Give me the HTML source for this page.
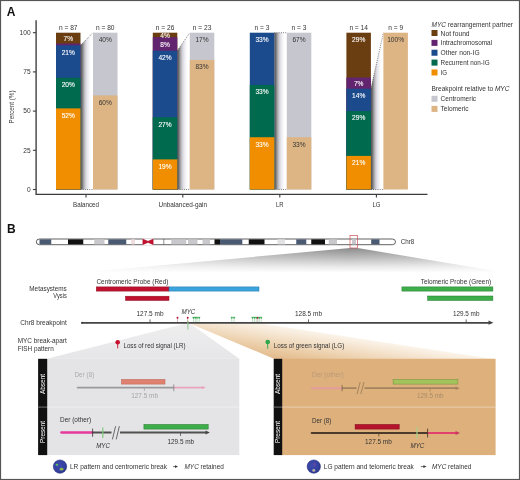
<!DOCTYPE html>
<html lang="en"><head><meta charset="utf-8"><title>MYC rearrangement figure</title>
<style>
html,body{margin:0;padding:0;background:#fff;}
body{width:520px;height:480px;overflow:hidden;}
svg{display:block;font-family:"Liberation Sans",sans-serif;}
</style></head><body>
<svg width="520" height="480" viewBox="0 0 520 480">
<defs>
<linearGradient id="shade" x1="0" y1="0" x2="1" y2="0">
<stop offset="0" stop-color="#4d4d4d"/><stop offset="0.12" stop-color="#707070"/><stop offset="0.26" stop-color="#a8a8ac"/><stop offset="0.4" stop-color="#d0d0d6"/><stop offset="0.55" stop-color="#e8e8ee"/><stop offset="0.74" stop-color="#fafafc"/><stop offset="0.85" stop-color="#ffffff"/>
</linearGradient>
<linearGradient id="wedge" x1="0" y1="0" x2="0" y2="1">
<stop offset="0" stop-color="#8c8c8c"/><stop offset="0.35" stop-color="#b9b9b9"/><stop offset="0.7" stop-color="#e8e8e8"/><stop offset="0.93" stop-color="#ffffff"/>
</linearGradient>
<linearGradient id="wedgefade" gradientUnits="userSpaceOnUse" x1="62" y1="0" x2="510" y2="0">
<stop offset="0" stop-color="#fff" stop-opacity="0.75"/><stop offset="0.42" stop-color="#fff" stop-opacity="0.18"/><stop offset="0.64" stop-color="#fff" stop-opacity="0"/><stop offset="0.8" stop-color="#fff" stop-opacity="0.1"/><stop offset="1" stop-color="#fff" stop-opacity="0.5"/>
</linearGradient>
<linearGradient id="gwedge" x1="0" y1="0" x2="0" y2="1">
<stop offset="0" stop-color="#eeeeef"/><stop offset="1" stop-color="#e6e6e8"/>
</linearGradient>
<linearGradient id="owedge" gradientUnits="userSpaceOnUse" x1="261" y1="323.4" x2="256" y2="356">
<stop offset="0" stop-color="#fbf4ea"/><stop offset="0.35" stop-color="#f3e0c8"/><stop offset="0.7" stop-color="#eacba4"/><stop offset="1" stop-color="#e2ba8b"/>
</linearGradient>
<radialGradient id="cell" cx="0.4" cy="0.4" r="0.7">
<stop offset="0" stop-color="#3e4cae"/><stop offset="0.7" stop-color="#3440a0"/><stop offset="1" stop-color="#252e80"/>
</radialGradient>
</defs>
<rect x="0" y="0" width="520" height="480" fill="#fff"/>

<text x="6.80" y="16.32" font-size="12" fill="#111" font-weight="bold">A</text>
<path d="M36.1 20.3 V194.3 H427.5" fill="none" stroke="#3c3c3c" stroke-width="1.35"/>
<path d="M32.9 189.50 H36.1" stroke="#3c3c3c" stroke-width="1.1"/>
<text x="30.60" y="191.88" font-size="6.6" fill="#333" text-anchor="end">0</text>
<path d="M32.9 150.30 H36.1" stroke="#3c3c3c" stroke-width="1.1"/>
<text x="30.60" y="152.68" font-size="6.6" fill="#333" text-anchor="end">25</text>
<path d="M32.9 111.10 H36.1" stroke="#3c3c3c" stroke-width="1.1"/>
<text x="30.60" y="113.48" font-size="6.6" fill="#333" text-anchor="end">50</text>
<path d="M32.9 71.90 H36.1" stroke="#3c3c3c" stroke-width="1.1"/>
<text x="30.60" y="74.28" font-size="6.6" fill="#333" text-anchor="end">75</text>
<path d="M32.9 32.70 H36.1" stroke="#3c3c3c" stroke-width="1.1"/>
<text x="30.60" y="35.08" font-size="6.6" fill="#333" text-anchor="end">100</text>
<text x="11.50" y="109.66" font-size="7.4" fill="#333" text-anchor="middle" textLength="33.00" lengthAdjust="spacingAndGlyphs" transform="rotate(-90 11.50 107.00)">Percent (%)</text>
<polygon points="80.5,45.32 93.0,32.70 93.0,189.50 80.5,189.50" fill="url(#shade)"/>
<path d="M80.5 45.32 L93.0 32.70" stroke="#444" stroke-width="0.75" stroke-dasharray="0.9 1.3" fill="none"/>
<path d="M80.5 189.50 L93.0 189.50" stroke="#444" stroke-width="0.75" stroke-dasharray="0.9 1.3" fill="none"/>
<rect x="56.0" y="32.70" width="24.5" height="156.80" fill="#6B3E12"/>
<rect x="56.0" y="43.51" width="24.5" height="145.99" fill="#62246F"/>
<rect x="56.0" y="45.32" width="24.5" height="144.18" fill="#1B4A8D"/>
<rect x="56.0" y="77.76" width="24.5" height="111.74" fill="#006A4E"/>
<rect x="56.0" y="108.40" width="24.5" height="81.10" fill="#F18E00"/>
<text x="68.25" y="117.77" font-size="6.6" fill="#fff" text-anchor="middle" stroke="#fff" stroke-width="0.1">52%</text>
<text x="68.25" y="87.13" font-size="6.6" fill="#fff" text-anchor="middle" stroke="#fff" stroke-width="0.1">20%</text>
<text x="68.25" y="54.69" font-size="6.6" fill="#fff" text-anchor="middle" stroke="#fff" stroke-width="0.1">21%</text>
<text x="68.25" y="40.78" font-size="6.6" fill="#fff" text-anchor="middle" stroke="#fff" stroke-width="0.1">7%</text>
<rect x="93.0" y="32.70" width="24.5" height="156.80" fill="#C6C6CE"/>
<rect x="93.0" y="95.42" width="24.5" height="94.08" fill="#DDB483"/>
<text x="105.25" y="104.70" font-size="6.6" fill="#333" text-anchor="middle">60%</text>
<text x="105.25" y="41.98" font-size="6.6" fill="#333" text-anchor="middle">40%</text>
<text x="68.25" y="29.98" font-size="6.6" fill="#333" text-anchor="middle">n = 87</text>
<text x="105.25" y="29.98" font-size="6.6" fill="#333" text-anchor="middle">n = 80</text>
<path d="M86.0 194.3 V197.4" stroke="#3c3c3c" stroke-width="1.1"/>
<text x="86.00" y="206.78" font-size="6.6" fill="#333" text-anchor="middle" textLength="26.00" lengthAdjust="spacingAndGlyphs">Balanced</text>
<polygon points="177.3,50.73 189.8,32.70 189.8,189.50 177.3,189.50" fill="url(#shade)"/>
<path d="M177.3 50.73 L189.8 32.70" stroke="#444" stroke-width="0.75" stroke-dasharray="0.9 1.3" fill="none"/>
<path d="M177.3 189.50 L189.8 189.50" stroke="#444" stroke-width="0.75" stroke-dasharray="0.9 1.3" fill="none"/>
<rect x="152.8" y="32.70" width="24.5" height="156.80" fill="#6B3E12"/>
<rect x="152.8" y="37.17" width="24.5" height="152.33" fill="#62246F"/>
<rect x="152.8" y="50.73" width="24.5" height="138.77" fill="#1B4A8D"/>
<rect x="152.8" y="117.22" width="24.5" height="72.28" fill="#006A4E"/>
<rect x="152.8" y="159.39" width="24.5" height="30.11" fill="#F18E00"/>
<text x="165.05" y="168.77" font-size="6.6" fill="#fff" text-anchor="middle" stroke="#fff" stroke-width="0.1">19%</text>
<text x="165.05" y="126.59" font-size="6.6" fill="#fff" text-anchor="middle" stroke="#fff" stroke-width="0.1">27%</text>
<text x="165.05" y="60.11" font-size="6.6" fill="#fff" text-anchor="middle" stroke="#fff" stroke-width="0.1">42%</text>
<text x="165.05" y="46.54" font-size="6.6" fill="#fff" text-anchor="middle" stroke="#fff" stroke-width="0.1">8%</text>
<text x="165.05" y="37.61" font-size="6.6" fill="#fff" text-anchor="middle" stroke="#fff" stroke-width="0.1">4%</text>
<rect x="189.8" y="32.70" width="24.5" height="156.80" fill="#C6C6CE"/>
<rect x="189.8" y="59.97" width="24.5" height="129.53" fill="#DDB483"/>
<text x="202.05" y="69.25" font-size="6.6" fill="#333" text-anchor="middle">83%</text>
<text x="202.05" y="41.98" font-size="6.6" fill="#333" text-anchor="middle">17%</text>
<text x="165.05" y="29.98" font-size="6.6" fill="#333" text-anchor="middle">n = 26</text>
<text x="202.05" y="29.98" font-size="6.6" fill="#333" text-anchor="middle">n = 23</text>
<path d="M182.8 194.3 V197.4" stroke="#3c3c3c" stroke-width="1.1"/>
<text x="182.80" y="206.78" font-size="6.6" fill="#333" text-anchor="middle" textLength="48.50" lengthAdjust="spacingAndGlyphs">Unbalanced-gain</text>
<polygon points="274.3,32.70 286.8,32.70 286.8,189.50 274.3,189.50" fill="url(#shade)"/>
<path d="M274.3 32.70 L286.8 32.70" stroke="#444" stroke-width="0.75" stroke-dasharray="0.9 1.3" fill="none"/>
<path d="M274.3 189.50 L286.8 189.50" stroke="#444" stroke-width="0.75" stroke-dasharray="0.9 1.3" fill="none"/>
<rect x="249.8" y="32.70" width="24.5" height="156.80" fill="#1B4A8D"/>
<rect x="249.8" y="84.97" width="24.5" height="104.53" fill="#006A4E"/>
<rect x="249.8" y="137.23" width="24.5" height="52.27" fill="#F18E00"/>
<text x="262.05" y="146.61" font-size="6.6" fill="#fff" text-anchor="middle" stroke="#fff" stroke-width="0.1">33%</text>
<text x="262.05" y="94.34" font-size="6.6" fill="#fff" text-anchor="middle" stroke="#fff" stroke-width="0.1">33%</text>
<text x="262.05" y="42.08" font-size="6.6" fill="#fff" text-anchor="middle" stroke="#fff" stroke-width="0.1">33%</text>
<rect x="286.8" y="32.70" width="24.5" height="156.80" fill="#C6C6CE"/>
<rect x="286.8" y="137.23" width="24.5" height="52.27" fill="#DDB483"/>
<text x="299.05" y="146.51" font-size="6.6" fill="#333" text-anchor="middle">33%</text>
<text x="299.05" y="41.98" font-size="6.6" fill="#333" text-anchor="middle">67%</text>
<text x="262.05" y="29.98" font-size="6.6" fill="#333" text-anchor="middle">n = 3</text>
<text x="299.05" y="29.98" font-size="6.6" fill="#333" text-anchor="middle">n = 3</text>
<path d="M279.8 194.3 V197.4" stroke="#3c3c3c" stroke-width="1.1"/>
<text x="279.80" y="206.78" font-size="6.6" fill="#333" text-anchor="middle" textLength="7.50" lengthAdjust="spacingAndGlyphs">LR</text>
<polygon points="370.9,88.70 383.4,32.70 383.4,189.50 370.9,189.50" fill="url(#shade)"/>
<path d="M370.9 88.70 L383.4 32.70" stroke="#444" stroke-width="0.75" stroke-dasharray="0.9 1.3" fill="none"/>
<path d="M370.9 189.50 L383.4 189.50" stroke="#444" stroke-width="0.75" stroke-dasharray="0.9 1.3" fill="none"/>
<rect x="346.4" y="32.70" width="24.5" height="156.80" fill="#6B3E12"/>
<rect x="346.4" y="77.50" width="24.5" height="112.00" fill="#62246F"/>
<rect x="346.4" y="88.70" width="24.5" height="100.80" fill="#1B4A8D"/>
<rect x="346.4" y="111.10" width="24.5" height="78.40" fill="#006A4E"/>
<rect x="346.4" y="155.90" width="24.5" height="33.60" fill="#F18E00"/>
<text x="358.65" y="165.28" font-size="6.6" fill="#fff" text-anchor="middle" stroke="#fff" stroke-width="0.1">21%</text>
<text x="358.65" y="120.48" font-size="6.6" fill="#fff" text-anchor="middle" stroke="#fff" stroke-width="0.1">29%</text>
<text x="358.65" y="98.08" font-size="6.6" fill="#fff" text-anchor="middle" stroke="#fff" stroke-width="0.1">14%</text>
<text x="358.65" y="85.78" font-size="6.6" fill="#fff" text-anchor="middle" stroke="#fff" stroke-width="0.1">7%</text>
<text x="358.65" y="42.08" font-size="6.6" fill="#fff" text-anchor="middle" stroke="#fff" stroke-width="0.1">29%</text>
<rect x="383.4" y="32.70" width="24.5" height="156.80" fill="#DDB483"/>
<text x="395.65" y="41.98" font-size="6.6" fill="#333" text-anchor="middle">100%</text>
<text x="358.65" y="29.98" font-size="6.6" fill="#333" text-anchor="middle">n = 14</text>
<text x="395.65" y="29.98" font-size="6.6" fill="#333" text-anchor="middle">n = 9</text>
<path d="M376.4 194.3 V197.4" stroke="#3c3c3c" stroke-width="1.1"/>
<text x="376.40" y="206.78" font-size="6.6" fill="#333" text-anchor="middle" textLength="8.00" lengthAdjust="spacingAndGlyphs">LG</text>
<text x="431.5" y="26.6" font-size="7" fill="#333" textLength="81.5" lengthAdjust="spacingAndGlyphs"><tspan font-style="italic">MYC</tspan> rearrangement partner</text>
<rect x="431.5" y="30.00" width="6" height="6" fill="#6B3E12"/>
<text x="440.60" y="35.52" font-size="7" fill="#333" textLength="29.00" lengthAdjust="spacingAndGlyphs">Not found</text>
<rect x="431.5" y="39.87" width="6" height="6" fill="#62246F"/>
<text x="440.60" y="45.39" font-size="7" fill="#333" textLength="51.50" lengthAdjust="spacingAndGlyphs">Intrachromosomal</text>
<rect x="431.5" y="49.74" width="6" height="6" fill="#1B4A8D"/>
<text x="440.60" y="55.26" font-size="7" fill="#333" textLength="39.00" lengthAdjust="spacingAndGlyphs">Other non-IG</text>
<rect x="431.5" y="59.61" width="6" height="6" fill="#006A4E"/>
<text x="440.60" y="65.13" font-size="7" fill="#333" textLength="49.00" lengthAdjust="spacingAndGlyphs">Recurrent non-IG</text>
<rect x="431.5" y="69.48" width="6" height="6" fill="#F18E00"/>
<text x="440.60" y="75.00" font-size="7" fill="#333" textLength="6.50" lengthAdjust="spacingAndGlyphs">IG</text>
<text x="431.5" y="90.9" font-size="7" fill="#333" textLength="78" lengthAdjust="spacingAndGlyphs">Breakpoint relative to <tspan font-style="italic">MYC</tspan></text>
<rect x="431.5" y="95.80" width="6" height="6" fill="#C6C6CE"/>
<text x="440.60" y="101.32" font-size="7" fill="#333" textLength="35.50" lengthAdjust="spacingAndGlyphs">Centromeric</text>
<rect x="431.5" y="105.90" width="6" height="6" fill="#DDB483"/>
<text x="440.60" y="111.42" font-size="7" fill="#333" textLength="28.00" lengthAdjust="spacingAndGlyphs">Telomeric</text>
<text x="7.00" y="232.92" font-size="12" fill="#111" font-weight="bold">B</text>
<polygon points="350,248 357.6,248 510,273.5 62,274.5" fill="url(#wedge)"/>
<polygon points="350,247.5 357.6,247.5 511,274 61,275" fill="url(#wedgefade)"/>
<rect x="36.3" y="239" width="359.2" height="5.699999999999989" rx="3.2" ry="3.2" fill="#fff" stroke="#3a3a3a" stroke-width="0.8"/>
<rect x="39.5" y="239.35" width="11.75" height="5.00" fill="#4A5A73"/>
<rect x="68" y="239.35" width="15.25" height="5.00" fill="#111"/>
<rect x="94.25" y="239.35" width="10.25" height="5.00" fill="#C9C9CD"/>
<rect x="108.25" y="239.35" width="18.00" height="5.00" fill="#4A5A73"/>
<rect x="131.25" y="239.35" width="3.75" height="5.00" fill="#EFDCDC"/>
<rect x="171.25" y="239.35" width="15.00" height="5.00" fill="#C9C9CD"/>
<rect x="188" y="239.35" width="9.50" height="5.00" fill="#C9C9CD"/>
<rect x="202.5" y="239.35" width="7.50" height="5.00" fill="#C9C9CD"/>
<rect x="214.5" y="239.35" width="5.50" height="5.00" fill="#111"/>
<rect x="220" y="239.35" width="22.30" height="5.00" fill="#4A5A73"/>
<rect x="248.75" y="239.35" width="15.75" height="5.00" fill="#111"/>
<rect x="277.5" y="239.35" width="7.50" height="5.00" fill="#E3E3E6"/>
<rect x="296.25" y="239.35" width="10.00" height="5.00" fill="#4A5A73"/>
<rect x="311.25" y="239.35" width="13.75" height="5.00" fill="#111"/>
<rect x="328.75" y="239.35" width="8.25" height="5.00" fill="#C9C9CD"/>
<rect x="352" y="239.35" width="4.00" height="5.00" fill="#C9C9CD"/>
<rect x="371.2" y="239.35" width="8.30" height="5.00" fill="#4A5A73"/>
<path d="M163.8 239 V244.7" stroke="#444" stroke-width="0.6"/>
<rect x="142.6" y="238.4" width="10.8" height="6.899999999999989" fill="#fff"/>
<path d="M142.8 239 L148 241.25 L153.2 239 V244.7 L148 242.45 L142.8 244.7 Z" fill="#C8102E" stroke="#8E0B20" stroke-width="0.4"/>
<rect x="350" y="235.4" width="7.6" height="12.6" fill="none" stroke="#CF4F5A" stroke-width="0.7"/>
<text x="400.80" y="244.05" font-size="6.8" fill="#333" textLength="13.50" lengthAdjust="spacingAndGlyphs">Chr8</text>
<text x="66.80" y="290.95" font-size="6.8" fill="#333" text-anchor="end" textLength="37.50" lengthAdjust="spacingAndGlyphs">Metasystems</text>
<text x="66.80" y="298.25" font-size="6.8" fill="#333" text-anchor="end" textLength="13.50" lengthAdjust="spacingAndGlyphs">Vysis</text>
<text x="96.40" y="284.05" font-size="6.8" fill="#333" textLength="72.00" lengthAdjust="spacingAndGlyphs">Centromeric Probe (Red)</text>
<rect x="96.3" y="286.9" width="72.7" height="4.2" fill="#C0122F" stroke="#8F0D22" stroke-width="0.5"/>
<rect x="169" y="286.9" width="90" height="4.2" fill="#3BA3DB" stroke="#2679A8" stroke-width="0.5"/>
<rect x="125.5" y="296.2" width="43.5" height="4.3" fill="#C0122F" stroke="#8F0D22" stroke-width="0.5"/>
<text x="420.70" y="283.75" font-size="6.8" fill="#333" textLength="70.50" lengthAdjust="spacingAndGlyphs">Telomeric Probe (Green)</text>
<rect x="401.9" y="286.9" width="91" height="4.2" fill="#3DAE49" stroke="#2A7A33" stroke-width="0.5"/>
<rect x="427.6" y="296" width="65.3" height="4.5" fill="#3DAE49" stroke="#2A7A33" stroke-width="0.5"/>
<polygon points="185.5,323.4 190,323.4 239.3,358.8 47,358.8" fill="url(#gwedge)"/>
<polygon points="190,323.4 261,323.4 495.6,359.2 275,359.2" fill="url(#owedge)"/>
<text x="66.80" y="324.75" font-size="6.8" fill="#333" text-anchor="end" textLength="46.50" lengthAdjust="spacingAndGlyphs">Chr8 breakpoint</text>
<path d="M82 322.8 H490" stroke="#444" stroke-width="1.8" stroke-linecap="round"/>
<circle cx="82.2" cy="322.8" r="1.1" fill="#444"/>
<polygon points="493.5,322.7 488.5,320.6 488.5,324.8" fill="#444"/>
<path d="M150 319.4 V322.7" stroke="#444" stroke-width="0.8"/>
<text x="150.00" y="316.35" font-size="6.8" fill="#333" text-anchor="middle" textLength="27.00" lengthAdjust="spacingAndGlyphs">127.5 mb</text>
<path d="M308.5 319.4 V322.7" stroke="#444" stroke-width="0.8"/>
<text x="308.50" y="316.35" font-size="6.8" fill="#333" text-anchor="middle" textLength="27.00" lengthAdjust="spacingAndGlyphs">128.5 mb</text>
<path d="M466.2 319.4 V322.7" stroke="#444" stroke-width="0.8"/>
<text x="466.20" y="316.35" font-size="6.8" fill="#333" text-anchor="middle" textLength="26.50" lengthAdjust="spacingAndGlyphs">129.5 mb</text>
<text x="188.40" y="313.75" font-size="6.8" fill="#333" text-anchor="middle" textLength="14.00" lengthAdjust="spacingAndGlyphs" font-style="italic">MYC</text>
<path d="M187.9 320.8 V329.6" stroke="#8CC68C" stroke-width="1"/>
<path d="M177.5 318.2 V322.2" stroke="#9a5560" stroke-width="0.4"/>
<circle cx="177.5" cy="317.7" r="0.95" fill="#B30F2A"/>
<path d="M187.7 318.2 V322.2" stroke="#9a5560" stroke-width="0.4"/>
<circle cx="187.7" cy="317.7" r="0.95" fill="#B30F2A"/>
<path d="M257.7 318.2 V322.2" stroke="#9a5560" stroke-width="0.4"/>
<circle cx="257.7" cy="317.7" r="0.95" fill="#B30F2A"/>
<path d="M193.5 318.6 V322.2" stroke="#5fae6c" stroke-width="0.4"/>
<path d="M192.55 317 H194.45 L193.5 319 Z" fill="#3FB257" stroke="#239A3E" stroke-width="0.3"/>
<path d="M195.3 318.6 V322.2" stroke="#5fae6c" stroke-width="0.4"/>
<path d="M194.35000000000002 317 H196.25 L195.3 319 Z" fill="#3FB257" stroke="#239A3E" stroke-width="0.3"/>
<path d="M197 318.6 V322.2" stroke="#5fae6c" stroke-width="0.4"/>
<path d="M196.05 317 H197.95 L197 319 Z" fill="#3FB257" stroke="#239A3E" stroke-width="0.3"/>
<path d="M199.2 318.6 V322.2" stroke="#5fae6c" stroke-width="0.4"/>
<path d="M198.25 317 H200.14999999999998 L199.2 319 Z" fill="#3FB257" stroke="#239A3E" stroke-width="0.3"/>
<path d="M231.8 318.6 V322.2" stroke="#5fae6c" stroke-width="0.4"/>
<path d="M230.85000000000002 317 H232.75 L231.8 319 Z" fill="#3FB257" stroke="#239A3E" stroke-width="0.3"/>
<path d="M234.1 318.6 V322.2" stroke="#5fae6c" stroke-width="0.4"/>
<path d="M233.15 317 H235.04999999999998 L234.1 319 Z" fill="#3FB257" stroke="#239A3E" stroke-width="0.3"/>
<path d="M252.5 318.6 V322.2" stroke="#5fae6c" stroke-width="0.4"/>
<path d="M251.55 317 H253.45 L252.5 319 Z" fill="#3FB257" stroke="#239A3E" stroke-width="0.3"/>
<path d="M254.4 318.6 V322.2" stroke="#5fae6c" stroke-width="0.4"/>
<path d="M253.45000000000002 317 H255.35 L254.4 319 Z" fill="#3FB257" stroke="#239A3E" stroke-width="0.3"/>
<path d="M256.2 318.6 V322.2" stroke="#5fae6c" stroke-width="0.4"/>
<path d="M255.25 317 H257.15 L256.2 319 Z" fill="#3FB257" stroke="#239A3E" stroke-width="0.3"/>
<path d="M259.3 318.6 V322.2" stroke="#5fae6c" stroke-width="0.4"/>
<path d="M258.35 317 H260.25 L259.3 319 Z" fill="#3FB257" stroke="#239A3E" stroke-width="0.3"/>
<path d="M261.2 318.6 V322.2" stroke="#5fae6c" stroke-width="0.4"/>
<path d="M260.25 317 H262.15 L261.2 319 Z" fill="#3FB257" stroke="#239A3E" stroke-width="0.3"/>
<text x="17.70" y="342.65" font-size="6.8" fill="#333" textLength="49.00" lengthAdjust="spacingAndGlyphs">MYC break-apart</text>
<text x="17.70" y="351.15" font-size="6.8" fill="#333" textLength="36.00" lengthAdjust="spacingAndGlyphs">FISH pattern</text>
<path d="M117.7 343 V348.4" stroke="#C8102E" stroke-width="0.9"/><circle cx="117.7" cy="342.3" r="2.3" fill="#C8102E"/>
<text x="123.50" y="347.95" font-size="6.8" fill="#333" textLength="62.00" lengthAdjust="spacingAndGlyphs">Loss of red signal (LR)</text>
<path d="M267.7 343 V348.8" stroke="#2EA84A" stroke-width="0.9"/><circle cx="267.7" cy="342" r="2.3" fill="#2EA84A"/>
<text x="273.80" y="348.25" font-size="6.8" fill="#333" textLength="70.50" lengthAdjust="spacingAndGlyphs">Loss of green signal (LG)</text>
<rect x="47" y="358.8" width="192.3" height="96.3" fill="#E4E4E6"/>
<rect x="38.1" y="358.8" width="9.1" height="96.3" fill="#111"/>
<path d="M38.1 407.1 H47" stroke="#8c8c8c" stroke-width="0.8"/>
<path d="M47 407.1 H239.3" stroke="#fff" stroke-opacity="0.5" stroke-width="0.8"/>
<text x="42.55" y="386.38" font-size="6.6" fill="#fff" text-anchor="middle" textLength="20.00" lengthAdjust="spacingAndGlyphs" transform="rotate(-90 42.55 384.00)">Absent</text>
<text x="42.55" y="434.38" font-size="6.6" fill="#fff" text-anchor="middle" textLength="22.00" lengthAdjust="spacingAndGlyphs" transform="rotate(-90 42.55 432.00)">Present</text>
<rect x="282" y="358.8" width="213.6" height="96.3" fill="#DDB07C"/>
<rect x="273.7" y="358.8" width="8.5" height="96.3" fill="#111"/>
<path d="M273.7 407.1 H282" stroke="#8c8c8c" stroke-width="0.8"/>
<path d="M282 407.1 H495.6" stroke="#fff" stroke-opacity="0.5" stroke-width="0.8"/>
<text x="277.85" y="386.38" font-size="6.6" fill="#fff" text-anchor="middle" textLength="20.00" lengthAdjust="spacingAndGlyphs" transform="rotate(-90 277.85 384.00)">Absent</text>
<text x="277.85" y="434.38" font-size="6.6" fill="#fff" text-anchor="middle" textLength="22.00" lengthAdjust="spacingAndGlyphs" transform="rotate(-90 277.85 432.00)">Present</text>
<text x="74.50" y="377.45" font-size="6.8" fill="#ABABAF" textLength="19.80" lengthAdjust="spacingAndGlyphs">Der (8)</text>
<rect x="121.4" y="379.4" width="43.6" height="4.7" fill="#E0806E" stroke="#B9655A" stroke-width="0.5"/>
<path d="M77.6 387.6 H173.7" stroke="#9A9A9C" stroke-width="1.8" stroke-linecap="round"/>
<path d="M173.7 387.6 H203" stroke="#E9A3BC" stroke-width="1.7"/>
<polygon points="205.6,387.6 202.4,386 202.4,389.2" fill="#E9A3BC"/>
<path d="M173.8 384.4 V391.2" stroke="#777" stroke-width="0.7"/>
<path d="M144.4 387.6 V391" stroke="#9C9C9E" stroke-width="0.7"/>
<text x="144.60" y="398.05" font-size="6.8" fill="#A4A4A8" text-anchor="middle" textLength="26.80" lengthAdjust="spacingAndGlyphs">127.5 mb</text>
<text x="60.00" y="421.65" font-size="6.8" fill="#333" textLength="31.20" lengthAdjust="spacingAndGlyphs">Der (other)</text>
<path d="M61.3 432.5 H92.5" stroke="#E5399B" stroke-width="2.3" stroke-linecap="round"/>
<path d="M92.5 432.5 H206" stroke="#505050" stroke-width="1.8"/>
<polygon points="209.8,432.5 205.6,430.6 205.6,434.4" fill="#444"/>
<path d="M92.6 428.6 V436.8" stroke="#333" stroke-width="0.8"/>
<path d="M102.8 427.4 V438" stroke="#7DCB7D" stroke-width="1.2"/>
<rect x="111.5" y="430.5" width="8.5" height="4" fill="#E4E4E6"/>
<path d="M112.4 439.4 L115.6 426.2 M116.2 439.4 L119.4 426.2" stroke="#333" stroke-width="0.7" fill="none"/>
<text x="103.10" y="448.25" font-size="6.8" fill="#333" text-anchor="middle" textLength="13.80" lengthAdjust="spacingAndGlyphs" font-style="italic">MYC</text>
<rect x="143.9" y="424.4" width="64.3" height="4.7" fill="#3DAE49" stroke="#2A7A33" stroke-width="0.5"/>
<path d="M180.5 432.5 V436" stroke="#444" stroke-width="0.7"/>
<text x="180.80" y="443.75" font-size="6.8" fill="#333" text-anchor="middle" textLength="26.80" lengthAdjust="spacingAndGlyphs">129.5 mb</text>
<text x="312.00" y="377.45" font-size="6.8" fill="#B99A78" textLength="31.60" lengthAdjust="spacingAndGlyphs">Der (other)</text>
<path d="M312 388.2 H342" stroke="#E39AA0" stroke-width="2" stroke-linecap="round"/>
<path d="M342 388.2 H456" stroke="#A3835F" stroke-width="1.8"/>
<polygon points="459.8,388.2 455.6,386.4 455.6,390" fill="#A3835F"/>
<path d="M342.1 385 V391.3" stroke="#6F5A40" stroke-width="0.7"/>
<rect x="356.5" y="386.2" width="8" height="4" fill="#DDB07C"/>
<path d="M357 394 L360.2 382.2 M360.8 394 L364 382.2" stroke="#8C7152" stroke-width="0.7" fill="none"/>
<rect x="393.1" y="379.4" width="64.8" height="4.7" fill="#A2C25C" stroke="#738F3A" stroke-width="0.5"/>
<path d="M430 388.2 V391.6" stroke="#A3835F" stroke-width="0.7"/>
<text x="430.30" y="398.25" font-size="6.8" fill="#A98C68" text-anchor="middle" textLength="26.80" lengthAdjust="spacingAndGlyphs">129.5 mb</text>
<text x="312.00" y="422.95" font-size="6.8" fill="#333" textLength="19.30" lengthAdjust="spacingAndGlyphs">Der (8)</text>
<rect x="355.1" y="424.4" width="44.1" height="4.7" fill="#B5122B" stroke="#800B1E" stroke-width="0.5"/>
<path d="M311.6 433 H427.5" stroke="#4C3B2A" stroke-width="1.8" stroke-linecap="round"/>
<path d="M427.5 433 H456" stroke="#E2406C" stroke-width="2"/>
<polygon points="460,433 455.6,431.1 455.6,434.9" fill="#C9375F"/>
<path d="M427.6 428.7 V437.5" stroke="#3A2D20" stroke-width="0.8"/>
<path d="M417 427 V438.8" stroke="#A5D38E" stroke-width="1.2"/>
<path d="M378.8 433 V436.4" stroke="#4C3B2A" stroke-width="0.7"/>
<text x="378.40" y="443.75" font-size="6.8" fill="#333" text-anchor="middle" textLength="26.80" lengthAdjust="spacingAndGlyphs">127.5 mb</text>
<text x="417.40" y="448.25" font-size="6.8" fill="#333" text-anchor="middle" textLength="13.80" lengthAdjust="spacingAndGlyphs" font-style="italic">MYC</text>
<circle cx="60" cy="466.6" r="6.7" fill="url(#cell)" stroke="#1e2670" stroke-width="0.5"/>
<ellipse cx="56.9" cy="464.8" rx="1.3" ry="1" fill="#5FC45A"/><ellipse cx="61.6" cy="469.2" rx="1.9" ry="1.4" fill="#8DB54A"/>
<text x="70" y="469.2" font-size="6.8" fill="#333" textLength="97" lengthAdjust="spacingAndGlyphs">LR pattern and centromeric break</text>
<path d="M173 466.6 H176" stroke="#333" stroke-width="0.7"/><polygon points="178,466.6 175,465.2 175,468" fill="#333"/>
<text x="184.5" y="469.2" font-size="6.8" fill="#333" textLength="39.3" lengthAdjust="spacingAndGlyphs"><tspan font-style="italic">MYC</tspan> retained</text>
<circle cx="313.8" cy="466.6" r="6.7" fill="url(#cell)" stroke="#1e2670" stroke-width="0.5"/>
<ellipse cx="314.6" cy="464.6" rx="1.2" ry="2.4" fill="#7A4C9A" opacity="0.55"/><ellipse cx="313.8" cy="470.4" rx="1.5" ry="1.4" fill="#B9B2A2"/>
<text x="323.8" y="469.2" font-size="6.8" fill="#333" textLength="90" lengthAdjust="spacingAndGlyphs">LG pattern and telomeric break</text>
<path d="M420.8 466.6 H424" stroke="#333" stroke-width="0.7"/><polygon points="426.6,466.6 423.4,465.2 423.4,468" fill="#333"/>
<text x="432" y="469.2" font-size="6.8" fill="#333" textLength="39.3" lengthAdjust="spacingAndGlyphs"><tspan font-style="italic">MYC</tspan> retained</text>
<rect x="0.5" y="0.5" width="519" height="479" fill="none" stroke="#555" stroke-width="1.2"/>
</svg></body></html>
